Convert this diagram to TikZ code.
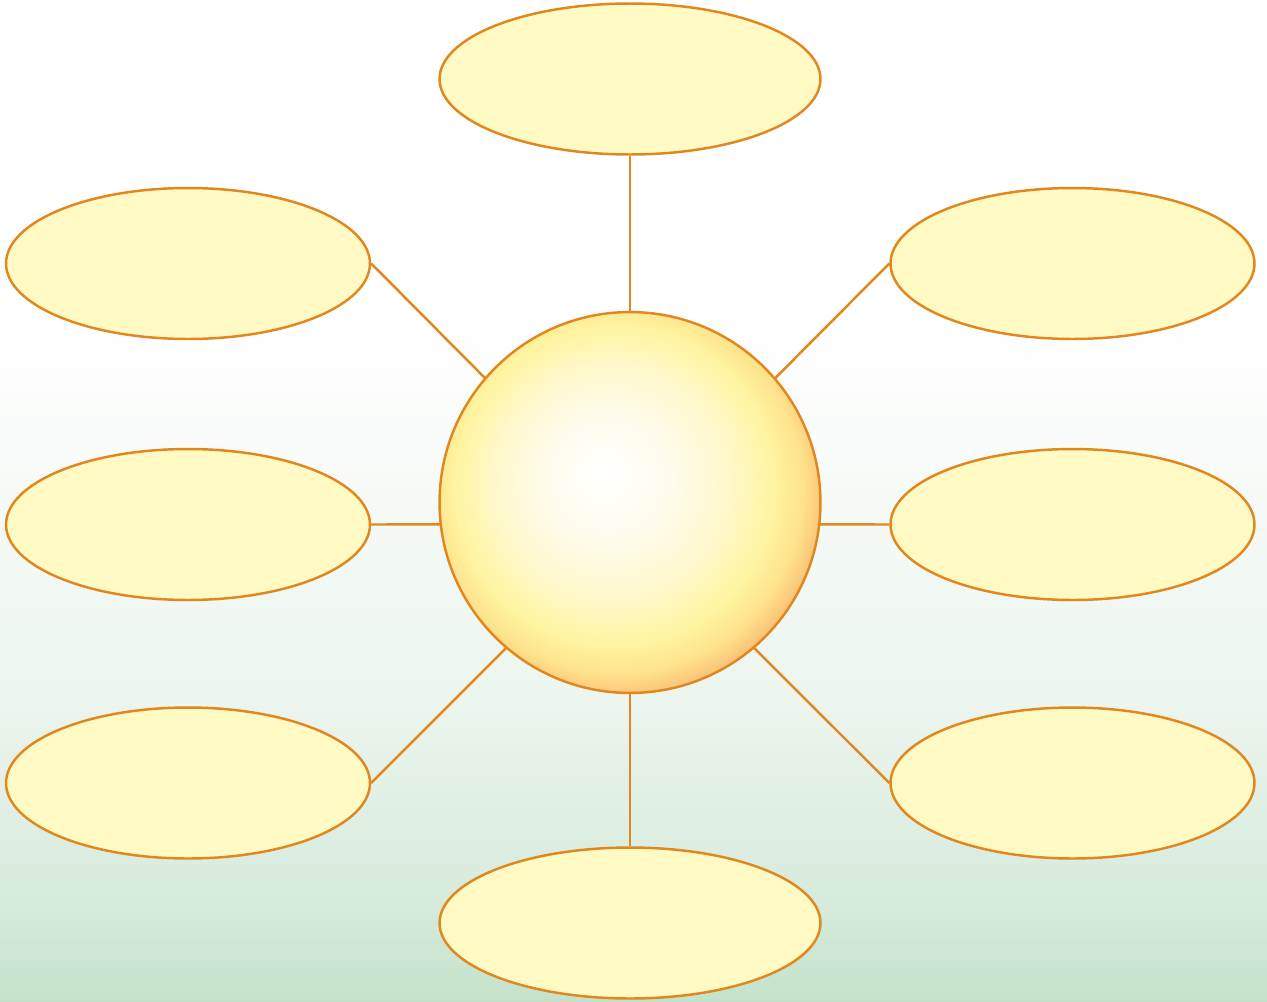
\documentclass[tikz,border=0pt]{standalone}
\usepackage{xcolor}
\usetikzlibrary{shapes.geometric}
\definecolor{orangef}{RGB}{225,135,30}
\definecolor{jaunep}{RGB}{255,249,196}
\definecolor{vertbas}{RGB}{196,226,202}
\definecolor{vertmi}{RGB}{214,235,220}
\definecolor{vertcl}{RGB}{236,245,238}
\definecolor{solA}{RGB}{255,252,236}
\definecolor{solB}{RGB}{255,248,206}
\definecolor{solC}{RGB}{255,244,160}
\definecolor{solD}{RGB}{254,226,140}
\definecolor{solE}{RGB}{250,190,116}
\definecolor{solF}{RGB}{242,154,86}
\pgfdeclareverticalshading{fond}{100bp}{color(0bp)=(vertbas); color(25bp)=(vertbas);
  color(30bp)=(vertmi); color(40bp)=(vertcl); color(59bp)=(white); color(100bp)=(white)}
\pgfdeclareradialshading{soleil}{\pgfpoint{-3.5bp}{3.8bp}}{color(0bp)=(white); color(8bp)=(solA);
  color(15bp)=(solB); color(21bp)=(solC); color(24.5bp)=(solD); color(27.5bp)=(solE); color(30.5bp)=(solF); color(50bp)=(solF)}

\begin{document}
\begin{tikzpicture}[x=0.02cm, y=-0.02cm,
  bulle/.style={ellipse, draw=orangef, fill=jaunep, line width=1.4pt, inner sep=0pt,
                minimum width=#1, minimum height=3.02cm},
  lien/.style={draw=orangef, line width=1.4pt}]

% fond
\useasboundingbox (0,0) rectangle (1267,1001);
\shade[shading=fond] (0,0) rectangle (1267,1001);

% bulles autour
\node[bulle=7.62cm] (haut) at (630,79) {};
\node[bulle=7.62cm] (bas) at (630,923) {};
\node[bulle=7.28cm] (gH) at (188,263.5) {};
\node[bulle=7.28cm] (gM) at (188,524.5) {};
\node[bulle=7.28cm] (gB) at (188,783) {};
\node[bulle=7.28cm] (dH) at (1072.5,263.5) {};
\node[bulle=7.28cm] (dM) at (1072.5,524.5) {};
\node[bulle=7.28cm] (dB) at (1072.5,783) {};

% liens vers le centre
\coordinate (pivot) at (630,524);
\draw[lien] (haut.south) -- (pivot);
\draw[lien] (bas.north) -- (pivot);
\draw[lien] (gH.east) -- (pivot);
\draw[lien] (gM.east) -- (pivot);
\draw[lien] (gB.east) -- (pivot);
\draw[lien] (dH.west) -- (pivot);
\draw[lien] (dM.west) -- (pivot);
\draw[lien] (dB.west) -- (pivot);

% le soleil
\node[circle, draw=orangef, line width=1.4pt, inner sep=0pt, minimum size=7.62cm, shading=soleil] (coeur) at (630,502.5) {};

\end{tikzpicture}
\end{document}
